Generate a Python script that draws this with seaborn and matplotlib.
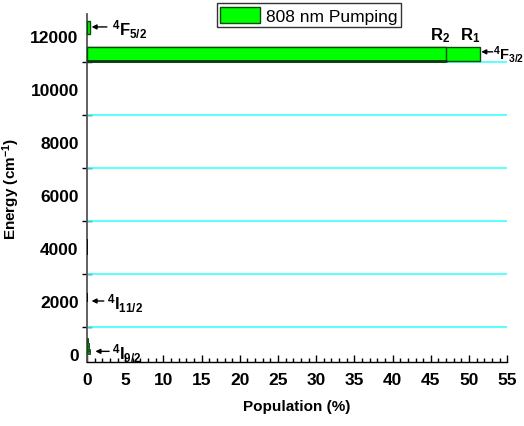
import matplotlib.pyplot as plt
import seaborn as sns

# level populations (energy in cm-1, population in %)
f32_labels = ['R1', 'R2']
f32_energy = [11330, 11330]
f32_pop = [51.4, 47.0]

f52_energy = [12320]
f52_pop = [0.35]

i92_energy = [40, 150, 260, 370, 480, 560]
i92_pop = [0.45, 0.4, 0.32, 0.25, 0.15, 0.08]

i112_energy = [2020, 2100, 2180, 2260]
i132_energy = [3780, 3900, 4020, 4140, 4260]
small_pop = 0.05

guide_lines = [1000, 3000, 5000, 7000, 9000, 11000]
yticks = [0, 2000, 4000, 6000, 8000, 10000, 12000]
xticks = list(range(0, 56, 5))

sns.set_style('ticks')
plt.rcParams['font.family'] = ['Liberation Sans', 'DejaVu Sans']
plt.rcParams['mathtext.default'] = 'regular'
plt.rcParams['text.color'] = 'black'
plt.rcParams['axes.labelcolor'] = 'black'
plt.rcParams['xtick.color'] = 'black'
plt.rcParams['ytick.color'] = 'black'

fig = plt.figure(figsize=(5.24, 4.27), dpi=100)
ax = fig.add_axes([0.166, 0.150, 0.802, 0.815])

# cyan guide lines
for g in guide_lines:
    ax.axhline(g, color='#40ffff', lw=1.2, zorder=1)

# 4F3/2 : R1 then R2 on top
ax.barh(f32_energy[0], f32_pop[0], height=540, color='#00ff00',
        edgecolor='#0a4a0a', lw=1.0, zorder=3, label='808 nm Pumping')
ax.barh(f32_energy[1], f32_pop[1], height=540, color='#00ff00',
        edgecolor='#0a4a0a', lw=1.0, zorder=4)
ax.plot([0, f32_pop[1]], [f32_energy[0] - 270, f32_energy[0] - 270],
        color='#0a3a0a', lw=2, zorder=5)

# 4F5/2
ax.barh(f52_energy, f52_pop, height=480, color='#00ff00',
        edgecolor='#0a4a0a', lw=1.0, zorder=3)

# 4I9/2 ground manifold
ax.barh(i92_energy, i92_pop, height=110, color='#1d7a1d',
        edgecolor='#0a4a0a', lw=0.6, zorder=3)

# 4I11/2, 4I13/2 almost empty
ax.barh(i112_energy, [small_pop] * len(i112_energy), height=80,
        color='black', edgecolor='black', lw=1.2, zorder=3)
ax.barh(i132_energy, [small_pop] * len(i132_energy), height=120,
        color='black', edgecolor='black', lw=1.2, zorder=3)

ax.set_xlim(0, 55)
ax.set_ylim(-300, 12830)
ax.set_xticks(xticks)
ax.set_xticks(range(0, 56), minor=True)
ax.set_yticks(yticks)
ax.set_yticks(guide_lines, minor=True)
ax.tick_params(axis='x', which='major', direction='in', length=5, width=1,
               labelsize=12.5, pad=7)
ax.tick_params(axis='x', which='minor', direction='in', length=3, width=1)
ax.tick_params(axis='y', which='major', length=0, labelsize=12.5, pad=6)
ax.tick_params(axis='y', which='minor', direction='inout', length=7, width=1)
for lab in ax.get_xticklabels() + ax.get_yticklabels():
    lab.set_fontweight('bold')

sns.despine(ax=ax, top=True, right=True)
ax.spines['left'].set_color('#555555')
ax.spines['left'].set_linewidth(1.3)
ax.spines['bottom'].set_linewidth(1.0)
ax.spines['bottom'].set_color('black')

ax.set_xlabel('Population (%)', fontsize=11, fontweight='bold', labelpad=9)
ax.set_ylabel('Energy (cm$^{-1}$)', fontsize=11, fontweight='bold', labelpad=6)

arrow = dict(arrowstyle='-|>', color='black', lw=1.0, mutation_scale=7,
             shrinkA=0, shrinkB=0)
lab_kw = dict(fontsize=12, fontweight='bold', va='center')
ax.annotate('', xy=(0.6, 12340), xytext=(2.6, 12340), arrowprops=arrow)
ax.text(3.3, 12280, r'$^4$F$_{5/2}$', **lab_kw)
ax.annotate('', xy=(51.6, 11400), xytext=(53.1, 11400), arrowprops=arrow,
            annotation_clip=False)
ax.text(53.1, 11320, r'$^4$F$_{3/2}$', clip_on=False,
        fontsize=10.5, fontweight='bold', va='center')
ax.annotate('', xy=(0.6, 2000), xytext=(2.2, 2000), arrowprops=arrow)
ax.text(2.6, 1930, r'$^4$I$_{11/2}$', **lab_kw)
ax.annotate('', xy=(1.1, 100), xytext=(2.9, 100), arrowprops=arrow)
ax.text(3.3, 60, r'$^4$I$_{9/2}$', **lab_kw)
ax.text(46.2, 11680, r'R$_2$', fontsize=12, fontweight='bold', ha='center', va='bottom')
ax.text(50.2, 11680, r'R$_1$', fontsize=12, fontweight='bold', ha='center', va='bottom')

leg = fig.legend(loc='upper left', bbox_to_anchor=(0.414, 0.99), fontsize=12.5,
                 frameon=True, fancybox=False, edgecolor='black',
                 handlelength=2.3, handleheight=1.1, borderpad=0.2,
                 handletextpad=0.3, borderaxespad=0)
leg.get_frame().set_linewidth(1.0)

fig.savefig('out.png', dpi=100)
